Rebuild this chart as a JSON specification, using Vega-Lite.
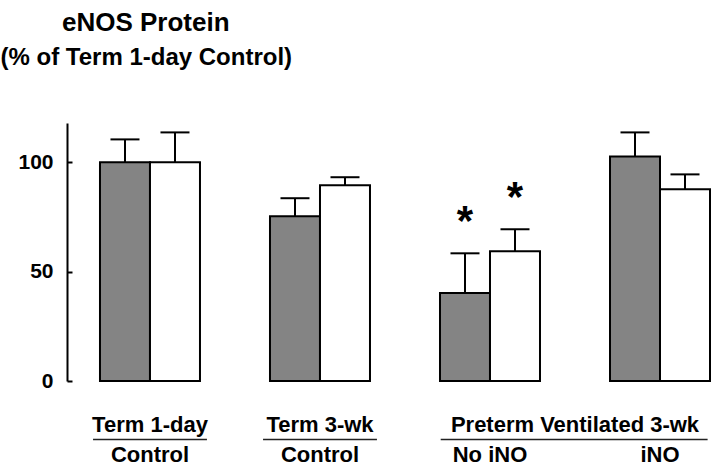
{
  "$schema": "https://vega.github.io/schema/vega-lite/v6.json",
  "width": 643,
  "height": 258,
  "autosize": "none",
  "padding": {"left": 67, "top": 123, "right": 10, "bottom": 90},
  "background": "white",
  "config": {"view": {"stroke": null}, "font": "Liberation Sans"},
  "title": {"text": "eNOS Protein", "anchor": "start", "frame": "group", "fontSize": 26, "fontWeight": "bold", "font": "Liberation Sans", "color": "black", "dx": -5, "offset": 9},
  "datasets": {
    "bars": [
      {"group": "G1", "series": "a", "value": 100, "err": 110.5, "sig": false},
      {"group": "G1", "series": "b", "value": 100, "err": 113.7, "sig": false},
      {"group": "G2", "series": "a", "value": 75.3, "err": 83.6, "sig": false},
      {"group": "G2", "series": "b", "value": 89.5, "err": 93.2, "sig": false},
      {"group": "G3", "series": "a", "value": 40.2, "err": 58.4, "sig": true},
      {"group": "G3", "series": "b", "value": 59.4, "err": 69.4, "sig": true},
      {"group": "G4", "series": "a", "value": 102.7, "err": 113.7, "sig": false},
      {"group": "G4", "series": "b", "value": 87.7, "err": 94.5, "sig": false}
    ],
    "headers": [
      {"label": "Term 1-day", "pos": 0, "lo": -0.335, "hi": 0.335},
      {"label": "Term 3-wk", "pos": 1, "lo": 0.665, "hi": 1.335},
      {"label": "Preterm Ventilated 3-wk", "pos": 2.5, "lo": 1.71, "hi": 3.28}
    ]
  },
  "layer": [
    {
      "data": {"name": "bars"},
      "encoding": {
        "x": {"field": "group", "type": "nominal", "sort": ["G1", "G2", "G3", "G4"],
              "scale": {"type": "band", "domain": ["G1", "G2", "G3", "G4"], "paddingInner": 0.4118, "paddingOuter": 0.097, "align": 1},
              "axis": {"title": null, "domain": false, "ticks": false, "labelAngle": 0, "labelFontSize": 22, "labelFontWeight": "bold", "labelColor": "black", "labelFont": "Liberation Sans", "labelPadding": 63,
                       "labelExpr": "datum.value == 'G1' ? 'Control' : datum.value == 'G2' ? 'Control' : datum.value == 'G3' ? 'No iNO' : 'iNO'"}},
        "xOffset": {"field": "series", "type": "nominal", "scale": {"domain": ["a", "b"], "paddingInner": 0, "paddingOuter": 0}}
      },
      "layer": [
        {
          "mark": {"type": "bar", "stroke": "black", "strokeWidth": 2},
          "encoding": {
            "y": {"field": "value", "type": "quantitative",
                  "scale": {"domain": [0, 118], "nice": false, "zero": true},
                  "axis": {"values": [0, 50, 100], "grid": false, "title": "(% of Term 1-day Control)", "titleAngle": 0, "titleAlign": "left", "titleBaseline": "alphabetic", "titleX": -67, "titleY": -59, "titleFontSize": 24, "titleFont": "Liberation Sans", "titleFontWeight": "bold", "titleColor": "black",
                           "labelFontSize": 21, "labelFontWeight": "bold", "labelColor": "black", "labelFont": "Liberation Sans", "domainColor": "black", "domainWidth": 2, "tickColor": "black", "tickWidth": 2, "tickSize": -5, "labelPadding": 19}},
            "fill": {"field": "series", "type": "nominal", "scale": {"domain": ["a", "b"], "range": ["#848484", "#ffffff"]}, "legend": null}
          }
        },
        {
          "mark": {"type": "rule", "strokeWidth": 2, "color": "black"},
          "encoding": {"y": {"field": "value", "type": "quantitative"}, "y2": {"field": "err"}}
        },
        {
          "mark": {"type": "tick", "size": 29, "thickness": 2, "color": "black", "opacity": 1},
          "encoding": {"y": {"field": "err", "type": "quantitative"}}
        },
        {
          "transform": [{"filter": "datum.sig"}],
          "mark": {"type": "text", "text": "*", "fontSize": 42, "fontWeight": "bold", "font": "Liberation Sans", "color": "black", "baseline": "alphabetic", "dy": -18},
          "encoding": {"y": {"field": "err", "type": "quantitative"}}
        }
      ]
    },
    {
      "data": {"name": "headers"},
      "encoding": {
        "x": {"field": "pos", "type": "quantitative", "scale": {"domain": [-0.4882, 3.2941], "nice": false, "zero": false}, "axis": null}
      },
      "layer": [
        {
          "mark": {"type": "text", "fontSize": 22, "fontWeight": "bold", "font": "Liberation Sans", "color": "black", "baseline": "alphabetic", "align": "center"},
          "encoding": {"y": {"datum": -23.2, "type": "quantitative"}, "text": {"field": "label"}}
        },
        {
          "mark": {"type": "rule", "strokeWidth": 1.5, "color": "#222222"},
          "encoding": {"x": {"field": "lo", "type": "quantitative"}, "x2": {"field": "hi"}, "y": {"datum": -26.8, "type": "quantitative"}}
        }
      ]
    }
  ],
  "resolve": {"scale": {"x": "independent"}}
}
